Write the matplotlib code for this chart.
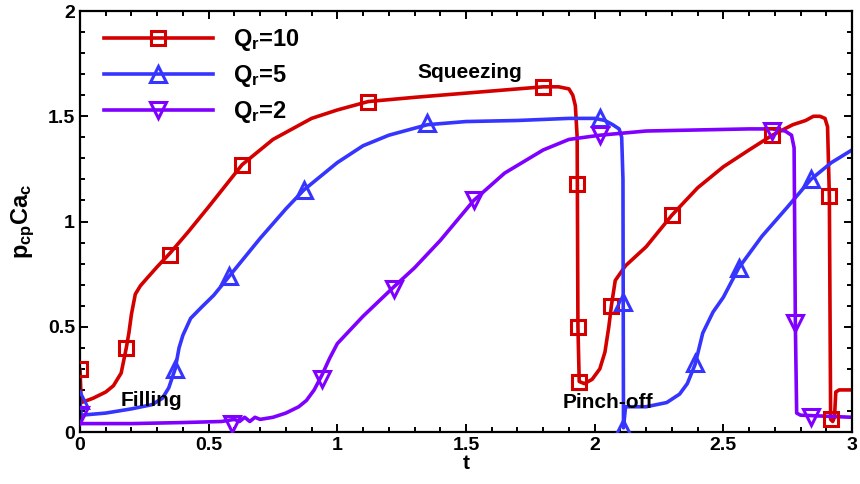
import matplotlib
matplotlib.use("Agg")
import matplotlib.pyplot as plt
from matplotlib.lines import Line2D
from matplotlib.ticker import MultipleLocator

# ===============================
# DATA
# ===============================
t_q10 = [0, 0.005, 0.05, 0.10, 0.13, 0.16, 0.18, 0.19, 0.20, 0.215, 0.235, 0.26, 0.30, 0.35, 0.42,
         0.5, 0.63, 0.75, 0.9, 1.0, 1.12, 1.3, 1.5, 1.7, 1.8, 1.86, 1.90, 1.915, 1.925, 1.932,
         1.935, 1.94, 1.96, 1.99, 2.02, 2.04, 2.055, 2.065, 2.08, 2.12, 2.2, 2.3, 2.4, 2.5, 2.6,
         2.69, 2.77, 2.82, 2.85, 2.875, 2.895, 2.905, 2.912, 2.917, 2.925, 2.932, 2.937, 2.95, 3.0]
p_q10 = [0.30, 0.14, 0.16, 0.19, 0.22, 0.28, 0.40, 0.47, 0.56, 0.655, 0.695, 0.73, 0.785, 0.85, 0.95,
         1.07, 1.27, 1.39, 1.49, 1.53, 1.57, 1.59, 1.61, 1.63, 1.64, 1.64, 1.63, 1.60, 1.55, 1.40,
         0.50, 0.24, 0.23, 0.25, 0.30, 0.38, 0.50, 0.60, 0.72, 0.79, 0.88, 1.03, 1.16, 1.26, 1.34,
         1.41, 1.46, 1.48, 1.50, 1.50, 1.49, 1.45, 1.12, 0.06, 0.05, 0.07, 0.19, 0.20, 0.20]

t_q5 = [0, 0.005, 0.1, 0.2, 0.28, 0.32, 0.345, 0.37, 0.385, 0.40, 0.43, 0.47, 0.52, 0.58,
        0.7, 0.8, 0.87, 1.0, 1.1, 1.2, 1.35, 1.5, 1.7, 1.9, 2.0, 2.04, 2.07, 2.095, 2.105,
        2.11, 2.112, 2.12, 2.2, 2.28, 2.33, 2.36, 2.39, 2.42, 2.46, 2.5, 2.56, 2.65, 2.75,
        2.84, 2.92, 3.0]
p_q5 = [0.15, 0.08, 0.09, 0.11, 0.13, 0.16, 0.21, 0.30, 0.40, 0.46, 0.54, 0.59, 0.65, 0.74,
        0.92, 1.06, 1.15, 1.28, 1.36, 1.41, 1.46, 1.475, 1.48, 1.49, 1.49, 1.48, 1.46, 1.44, 1.40,
        1.20, 0.02, 0.12, 0.12, 0.14, 0.18, 0.23, 0.32, 0.47, 0.57, 0.64, 0.78, 0.93, 1.07,
        1.20, 1.28, 1.34]

t_q2 = [0, 0.005, 0.2, 0.4, 0.55, 0.6, 0.62, 0.64, 0.66, 0.68, 0.7, 0.75, 0.8, 0.85, 0.88,
        0.91, 0.94, 0.97, 1.0, 1.1, 1.22, 1.3, 1.4, 1.53, 1.65, 1.8, 1.9, 2.02, 2.2, 2.4, 2.6,
        2.69, 2.74, 2.765, 2.775, 2.78, 2.785, 2.8, 2.9, 3.0]
p_q2 = [0.08, 0.04, 0.04, 0.045, 0.05, 0.06, 0.05, 0.07, 0.05, 0.07, 0.06, 0.07, 0.09, 0.12, 0.15,
        0.20, 0.27, 0.35, 0.42, 0.55, 0.69, 0.78, 0.91, 1.10, 1.23, 1.34, 1.39, 1.41, 1.43, 1.435, 1.44,
        1.44, 1.43, 1.41, 1.35, 0.50, 0.09, 0.08, 0.075, 0.07]

# marker positions
mt_q10 = [0, 0.18, 0.35, 0.63, 1.12, 1.80, 1.93, 1.935, 1.94, 2.065, 2.30, 2.69, 2.912, 2.917]
mp_q10 = [0.30, 0.40, 0.84, 1.27, 1.57, 1.64, 1.18, 0.50, 0.24, 0.60, 1.03, 1.41, 1.12, 0.06]
mt_q5 = [0, 0.37, 0.58, 0.87, 1.35, 2.02, 2.11, 2.11, 2.39, 2.56, 2.84]
mp_q5 = [0.15, 0.30, 0.74, 1.15, 1.47, 1.49, 0.62, 0.02, 0.33, 0.78, 1.20]
mt_q2 = [0, 0.59, 0.94, 1.22, 1.53, 2.02, 2.69, 2.78, 2.84]
mp_q2 = [0.08, 0.04, 0.25, 0.68, 1.10, 1.41, 1.43, 0.52, 0.07]

labels = ["$Q_r$=10", "$Q_r$=5", "$Q_r$=2"]
colors = ["#d40000", "#3535ff", "#8000ff"]
markers = ["s", "^", "v"]
msizes = [9.5, 12, 12]

x_ticks = [0, 0.5, 1, 1.5, 2, 2.5, 3]
x_ticklabels = ["0", "0.5", "1", "1.5", "2", "2.5", "3"]
y_ticks = [0, 0.5, 1, 1.5, 2]
y_ticklabels = ["0", "0.5", "1", "1.5", "2"]

# ===============================
# STYLE
# ===============================
plt.rcParams["font.family"] = ["Liberation Sans", "DejaVu Sans"]
plt.rcParams["font.weight"] = "bold"
plt.rcParams["mathtext.fontset"] = "custom"
plt.rcParams["mathtext.rm"] = "Liberation Sans:bold"
plt.rcParams["mathtext.it"] = "Liberation Sans:bold"
plt.rcParams["mathtext.bf"] = "Liberation Sans:bold"

fig = plt.figure(figsize=(8.6, 4.84), dpi=100)
ax = fig.add_axes([0.0930, 0.1074, 0.8977, 0.8698])

series = [(t_q10, p_q10, mt_q10, mp_q10),
          (t_q5, p_q5, mt_q5, mp_q5),
          (t_q2, p_q2, mt_q2, mp_q2)]

handles = []
for (t, p, mt, mp), c, m, ms in zip(series, colors, markers, msizes):
    ax.plot(t, p, color=c, lw=2.6, solid_joinstyle="round", solid_capstyle="round", zorder=2)
    ax.plot(mt, mp, ls="none", marker=m, ms=ms, mfc="none", mec=c, mew=2.2, zorder=3)
    handles.append(Line2D([], [], color=c, lw=2.6, marker=m, ms=ms, mfc="none", mec=c, mew=2.2))

ax.text(1.516, 1.706, "Squeezing", fontsize=15, fontweight="bold", ha="center", va="center")
ax.text(0.276, 0.152, "Filling", fontsize=15, fontweight="bold", ha="center", va="center")
ax.text(2.05, 0.142, "Pinch-off", fontsize=15, fontweight="bold", ha="center", va="center")

ax.set_xlim(0, 3)
ax.set_ylim(0, 2)
ax.set_xticks(x_ticks)
ax.set_xticklabels(x_ticklabels)
ax.set_yticks(y_ticks)
ax.set_yticklabels(y_ticklabels)
ax.xaxis.set_minor_locator(MultipleLocator(0.1))
ax.yaxis.set_minor_locator(MultipleLocator(0.1))
ax.tick_params(which="both", direction="in", top=True, right=True, width=1.4, labelsize=14)
ax.tick_params(which="major", length=6)
ax.tick_params(which="minor", length=3.5)
for s in ax.spines.values():
    s.set_linewidth(1.6)

ax.set_xlabel("t", fontsize=15, fontweight="bold", labelpad=0)
ax.set_ylabel("$p_{cp}Ca_c$", fontsize=17, labelpad=8)

ax.legend(handles, labels, loc="upper left", bbox_to_anchor=(0.031, 0.962), frameon=False,
          fontsize=17, borderpad=0, borderaxespad=0, handlelength=4.6, handletextpad=0.85,
          labelspacing=0.42)

fig.savefig("out.png", dpi=100)
